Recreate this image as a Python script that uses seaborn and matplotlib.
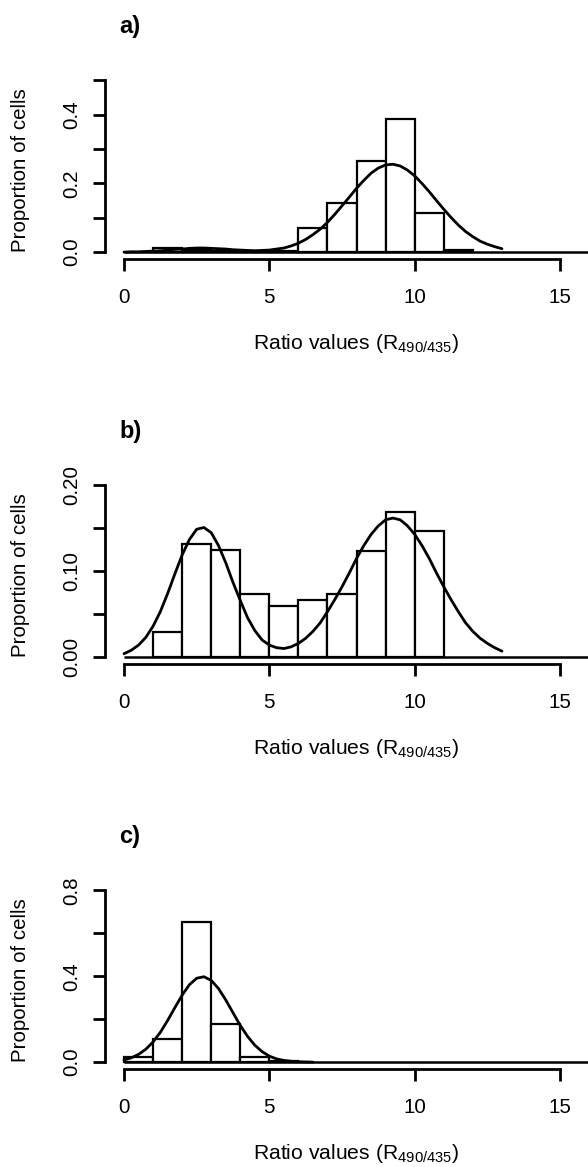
import numpy as np
import pandas as pd
import matplotlib
matplotlib.use("Agg")
import matplotlib.pyplot as plt
import seaborn as sns

# ── data ─────────────────────────────────────────────────
# 1-unit bins; each panel lists the proportions from its first to its last bar
BIN_START_A, PROP_A = 1, [0.011, 0.006, 0.004, 0.002, 0.002, 0.070, 0.144, 0.264, 0.388, 0.113, 0.006]
BIN_START_B, PROP_B = 1, [0.029, 0.132, 0.125, 0.074, 0.059, 0.066, 0.074, 0.124, 0.169, 0.147]
BIN_START_C, PROP_C = 0, [0.025, 0.110, 0.655, 0.180, 0.023, 0.005]

# fitted density curves, read every 0.25 along x
CURVE_X = np.arange(0, 13.001, 0.25)
CURVE_A = [0.000, 0.001, 0.001, 0.002, 0.003, 0.004, 0.006, 0.008, 0.009, 0.011, 0.012,
           0.012, 0.011, 0.010, 0.009, 0.007, 0.006, 0.005, 0.004, 0.005, 0.006, 0.009,
           0.012, 0.018, 0.026, 0.037, 0.051, 0.067, 0.087, 0.110, 0.135, 0.160, 0.186,
           0.209, 0.230, 0.245, 0.254, 0.256, 0.251, 0.239, 0.222, 0.200, 0.176, 0.150,
           0.125, 0.101, 0.079, 0.060, 0.045, 0.032, 0.023, 0.016, 0.010]
CURVE_B = [0.004, 0.008, 0.014, 0.023, 0.036, 0.053, 0.074, 0.097, 0.119, 0.137, 0.149,
           0.151, 0.145, 0.130, 0.110, 0.087, 0.066, 0.046, 0.031, 0.020, 0.014, 0.011,
           0.010, 0.012, 0.016, 0.022, 0.030, 0.040, 0.053, 0.067, 0.082, 0.098, 0.115,
           0.130, 0.143, 0.153, 0.160, 0.162, 0.160, 0.153, 0.143, 0.130, 0.115, 0.098,
           0.082, 0.067, 0.053, 0.040, 0.030, 0.022, 0.016, 0.011, 0.007]
CURVE_C = [0.010, 0.020, 0.036, 0.060, 0.094, 0.139, 0.194, 0.254, 0.312, 0.361, 0.391,
           0.398, 0.381, 0.343, 0.290, 0.230, 0.171, 0.120, 0.079, 0.049, 0.028, 0.015,
           0.008, 0.004, 0.002, 0.001, 0.000]

PANELS = [
    ("a)", BIN_START_A, PROP_A, CURVE_A, 0.5, 0.1, [0.0, 0.2, 0.4], "{:.1f}"),
    ("b)", BIN_START_B, PROP_B, CURVE_B, 0.2, 0.05, [0.00, 0.10, 0.20], "{:.2f}"),
    ("c)", BIN_START_C, PROP_C, CURVE_C, 0.8, 0.2, [0.0, 0.4, 0.8], "{:.1f}"),
]
X_TICKS = [0, 5, 10, 15]

# ── style ────────────────────────────────────────────────
sns.set_style("ticks", {"axes.edgecolor": "black", "text.color": "black",
                        "xtick.color": "black", "ytick.color": "black",
                        "axes.labelcolor": "black"})
plt.rcParams["font.family"] = ["Liberation Sans", "DejaVu Sans"]
plt.rcParams["mathtext.fontset"] = "custom"
plt.rcParams["mathtext.rm"] = "Liberation Sans"
FS = 14.8
LW_AX = 2.0

W, H = 588, 1167
fig = plt.figure(figsize=(W / 100, H / 100), dpi=100)

# pixel layout (R-style plot regions, right edge cropped)
X0_PX, PX_PER_UNIT = 124.0, 29.07
XLIM = (-0.64, 16.64)
ax_left = X0_PX + XLIM[0] * PX_PER_UNIT
ax_w = (XLIM[1] - XLIM[0]) * PX_PER_UNIT
ax_h = 185.4
bottoms = [259.0, 664.0, 1069.0]

for (tag, start, props, cy, ytop, ystep, ylabs, fmt), bot in zip(PANELS, bottoms):
    ax = fig.add_axes([ax_left / W, (H - bot) / H, ax_w / W, ax_h / H])

    edges = [start + i for i in range(len(props) + 1)]
    hist_df = pd.DataFrame({"ratio": [e + 0.5 for e in edges[:-1]], "prop": props})
    sns.histplot(data=hist_df, x="ratio", weights="prop", bins=edges, stat="count",
                 color="white", edgecolor="black", linewidth=1.6, alpha=1, ax=ax)
    ax.hlines(0, 0, XLIM[1] + 1, color="black", lw=1.8)
    sns.lineplot(x=CURVE_X[:len(cy)], y=cy, color="black", lw=2.0, ax=ax)

    ax.set_xlim(*XLIM)
    ax.set_ylim(-0.04 * ytop, 1.04 * ytop)

    # R-style axes
    for s in ["top", "right"]:
        ax.spines[s].set_visible(False)
    ax.spines["left"].set_bounds(0, ytop)
    ax.spines["bottom"].set_bounds(0, 15)
    for s in ["left", "bottom"]:
        ax.spines[s].set_linewidth(LW_AX)

    ax.set_xticks(X_TICKS)
    ax.set_xticklabels([str(t) for t in X_TICKS])
    ax.set_yticks(ylabs)
    ax.set_yticklabels([fmt.format(v) for v in ylabs], rotation=90, va="center")
    ax.set_yticks(np.arange(0, ytop + 1e-9, ystep), minor=True)
    ax.tick_params(axis="x", length=8.6, width=LW_AX, pad=12.5, labelsize=FS)
    ax.tick_params(axis="y", which="both", length=8.9, width=LW_AX, pad=8.6, labelsize=FS)

    ax.set_ylabel("Proportion of cells", fontsize=FS)
    ax.yaxis.label.set_va("center")
    ax.yaxis.set_label_coords((21 - ax_left) / ax_w, 0.48)

    ax.set_xlabel(r"Ratio values ($\mathrm{R}_{\mathrm{490/435}}$)", fontsize=15.2)
    ax.xaxis.label.set_va("baseline")
    ax.xaxis.set_label_coords(0.5, -90.0 / ax_h)

    fig.text(119 / W, 1 - (bot - 259 + 33.3) / H, tag, fontsize=17, fontweight="bold",
             ha="left", va="baseline")

fig.savefig("out.png", dpi=100, facecolor="white")
